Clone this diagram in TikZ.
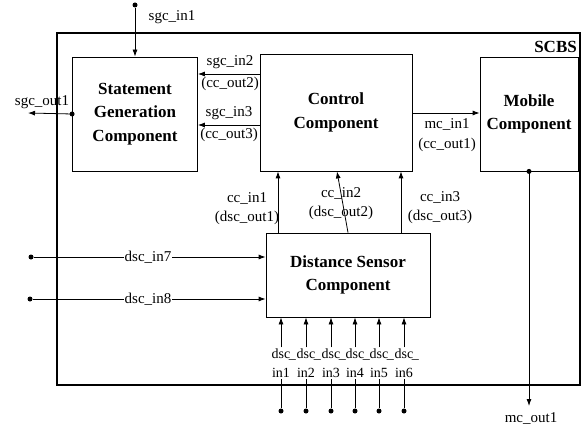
\documentclass[tikz,border=0pt]{standalone}
\usepackage{fontspec}
\setmainfont{Liberation Serif}
\usetikzlibrary{arrows.meta}

\tikzset{
  comp/.style={draw, line width=0.8pt, align=center, font=\fontsize{17}{23.5}\selectfont\bfseries},
  sig/.style={align=center, inner sep=1pt, font=\fontsize{15}{19}\selectfont},
  flow/.style={line width=0.8pt, -{Latex[length=7pt,width=5pt]}},
  wire/.style={line width=0.8pt},
  pin/.style={circle, fill, inner sep=0pt, minimum size=5pt},
}

\begin{document}
\begin{tikzpicture}[x=1pt,y=-1pt]
\useasboundingbox (0,0) rectangle (585,430);

	\draw[line width=2pt] (57,33) rectangle (580,385);
	\node[anchor=base east, inner sep=1pt, font=\fontsize{17}{20}\selectfont\bfseries] (scbs) at (578,53) {SCBS};

	\node[comp, minimum width=125pt, minimum height=114pt] (sgc) at (135,114) {Statement\\Generation\\Component};
	\node[comp, minimum width=152pt, minimum height=117pt] (cc) at (336,112.5) {Control\\Component};
	\node[comp, minimum width=98pt, minimum height=114pt] (mc) at (529,114) {Mobile\\Component};
	\node[comp, minimum width=164pt, minimum height=84pt] (dsc) at (348,275) {Distance Sensor\\Component};

	\node[pin] (p1) at (135,5) {};
	\node[pin] (p2) at (sgc.west) {};
	\node[pin] (p3) at (mc.south) {};
	\node[pin] (p7) at (31,257) {};
	\node[pin] (p8) at (30,299) {};
	\coordinate (o1) at (28,113);
	\coordinate (o2) at (529,406);

	\node[sig] (sgcin1) at (172,17) {sgc\_in1};
	\node[sig] (sgcout1) at (42,102) {sgc\_out1};
	\node[sig] (sgcin2) at (230,62) {sgc\_in2};
	\node[sig] (ccout2) at (230,84) {(cc\_out2)};
	\node[sig] (sgcin3) at (229,113) {sgc\_in3};
	\node[sig] (ccout3) at (229,135) {(cc\_out3)};
	\node[sig, font=\fontsize{15}{20}\selectfont] (mcin1) at (447,135) {mc\_in1\\(cc\_out1)};
	\node[sig] (mcout1) at (531,419) {mc\_out1};
	\node[sig] (ccin1) at (247,209) {cc\_in1\\(dsc\_out1)};
	\node[sig] (ccin2) at (341,204) {cc\_in2\\(dsc\_out2)};
	\node[sig] (ccin3) at (440,208) {cc\_in3\\(dsc\_out3)};
	\node[sig, fill=white, inner sep=0.5pt] (dscin7) at (148,257) {dsc\_in7};
	\node[sig, fill=white, inner sep=0.5pt] (dscin8) at (148,299) {dsc\_in8};

\draw[flow] (p1) -- (sgc.north); \draw[flow] (p2.center) -- (o1); \draw[flow] (p3.center) -- (o2);
\draw[flow] (cc.west |- 0,74) -- (sgc.east |- 0,74); \draw[flow] (cc.west |- 0,125) -- (sgc.east |- 0,125);
\draw[flow] (cc.east |- 0,113) -- (mc.west |- 0,113);
\draw[flow] (dsc.north -| 278,0) -- (cc.south -| 278,0); \draw[flow] (dsc.north -| 348,0) -- (cc.south -| 337,0); \draw[flow] (dsc.north -| 401,0) -- (cc.south -| 401,0);
\draw[flow] (p7) -- (dscin7) -- (dscin7 -| dsc.west); \draw[flow] (p8) -- (dscin8) -- (dscin8 -| dsc.west);

\foreach \x [count=\i] in {281,306,331,355,379,404}{
	\node[sig, font=\fontsize{14}{19}\selectfont] (dscin\i) at (\x,363) {dsc\rlap{\kern-1.5pt\_}\\in\i};
	\node[pin] (q\i) at (\x,411) {};
	\draw[wire] (q\i) -- (dscin\i);
	\draw[flow] (dscin\i) -- (dscin\i |- dsc.south);
}

\end{tikzpicture}
\end{document}
